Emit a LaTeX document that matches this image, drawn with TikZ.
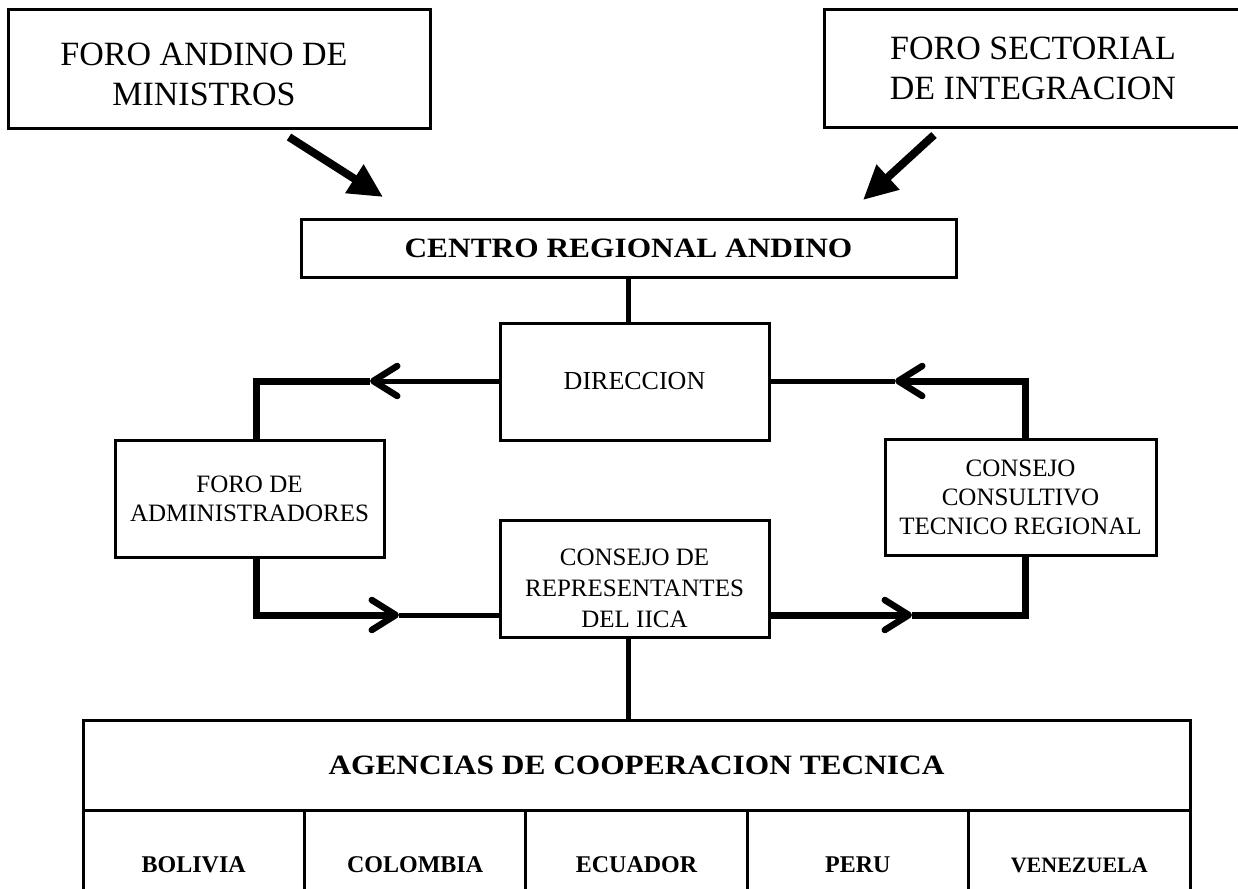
\documentclass[tikz,border=0pt]{standalone}
\usepackage{fontspec}
\setmainfont{Liberation Serif}
\newfontfamily\widefont[FakeStretch=1.12]{Liberation Serif}
\usetikzlibrary{arrows.meta}
\begin{document}
\begin{tikzpicture}[x=1pt,y=-1pt,
  box/.style={draw, line width=3pt, inner sep=0pt, outer sep=0pt, align=center},
  lab/.style={align=center, inner sep=0pt},
  topfont/.style={font=\fontsize{34}{40}\selectfont},
  headfont/.style={font=\widefont\bfseries\fontsize{28}{32}\selectfont},
  midfont/.style={font=\fontsize{25}{29}\selectfont},
  cfont/.style={font=\bfseries\fontsize{24}{28}\selectfont},
  vline/.style={line width=5.5pt},
  thickline/.style={line width=7pt, line join=miter},
  thinline/.style={line width=5pt},
  barb/.style={-{Straight Barb[length=24pt,width=30pt,round,line width=6.5pt]}},
  bigarrow/.style={line width=8pt, -{Triangle[length=34pt,width=32pt]}}
]
\useasboundingbox (0,0) rectangle (1238,888);

% top boxes
\node[box, minimum width=422pt, minimum height=118pt,
  label={[lab, topfont, xshift=-15pt, yshift=-5pt]center:FORO ANDINO DE\\MINISTROS}] (fam) at (219,69) {};
\node[box, topfont, minimum width=418pt, minimum height=117pt] (fsi) at (1033,68.5) {FORO SECTORIAL\\DE INTEGRACION};

% centro
\node[box, headfont, minimum width=655pt, minimum height=58pt] (cra) at (628.5,248) {CENTRO REGIONAL ANDINO};

% diagonal arrows
\coordinate (a1s) at (289,137);
\coordinate (a1e) at (383,197);
\coordinate (a2s) at (934,135);
\coordinate (a2e) at (863,200);
\draw[bigarrow] (a1s) -- (a1e);
\draw[bigarrow] (a2s) -- (a2e);

% middle boxes
\node[box, minimum width=269pt, minimum height=117pt, font=\fontsize{26}{30}\selectfont] (dir) at (634.5,381.5) {DIRECCION};
\node[box, midfont, minimum width=269pt, minimum height=117pt] (fa) at (249.5,498.5) {FORO DE\\ADMINISTRADORES};
\node[box, midfont, minimum width=271pt, minimum height=116pt] (cct) at (1020.5,497) {CONSEJO\\CONSULTIVO\\TECNICO REGIONAL};
\node[box, minimum width=269pt, minimum height=117pt,
  label={[lab, font=\fontsize{25}{31}\selectfont, yshift=-10pt]center:CONSEJO DE\\REPRESENTANTES\\DEL IICA}] (crep) at (634.5,578.5) {};

% table
\node[box, headfont, minimum width=1107pt, minimum height=90pt] (agh) at (636.5,765) {AGENCIAS DE COOPERACION TECNICA};
\node[box, cfont, minimum width=221.4pt, minimum height=110pt, anchor=north west] (bol) at (83,810) {BOLIVIA};
\node[box, cfont, minimum width=221.4pt, minimum height=110pt, anchor=north west] (col) at (bol.north east) {COLOMBIA};
\node[box, cfont, minimum width=221.4pt, minimum height=110pt, anchor=north west] (ecu) at (col.north east) {ECUADOR};
\node[box, cfont, minimum width=221.4pt, minimum height=110pt, anchor=north west] (per) at (ecu.north east) {PERU};
\node[box, minimum width=221.4pt, minimum height=110pt, anchor=north west, font=\bfseries\fontsize{22}{26}\selectfont] (ven) at (per.north east) {VENEZUELA};

% vertical connectors
\draw[vline] (cra.south) -- (cra.south |- dir.north);
\draw[vline] (crep.south -| cra.south) -- (agh.north -| cra.south);

% loop connectors
\coordinate (t1) at (370,381);
\coordinate (t2) at (399,615);
\coordinate (t3) at (895,381);
\coordinate (t4) at (912,615);

\draw[thinline, barb] (dir.west |- t1) -- (t1);
\draw[thickline] (t1) -| (fa.north -| 256,0);

\draw[thickline, barb] (fa.south -| 256,0) |- (t2);
\draw[thinline] (t2) -- (crep.west |- t2);

\draw[thickline, barb] (cct.north -| 1025,0) |- (t3);
\draw[thinline] (t3) -- (dir.east |- t3);

\draw[thickline, barb] (crep.east |- t4) -- (t4);
\draw[thickline] (t4) -| (cct.south -| 1025,0);
\end{tikzpicture}
\end{document}
